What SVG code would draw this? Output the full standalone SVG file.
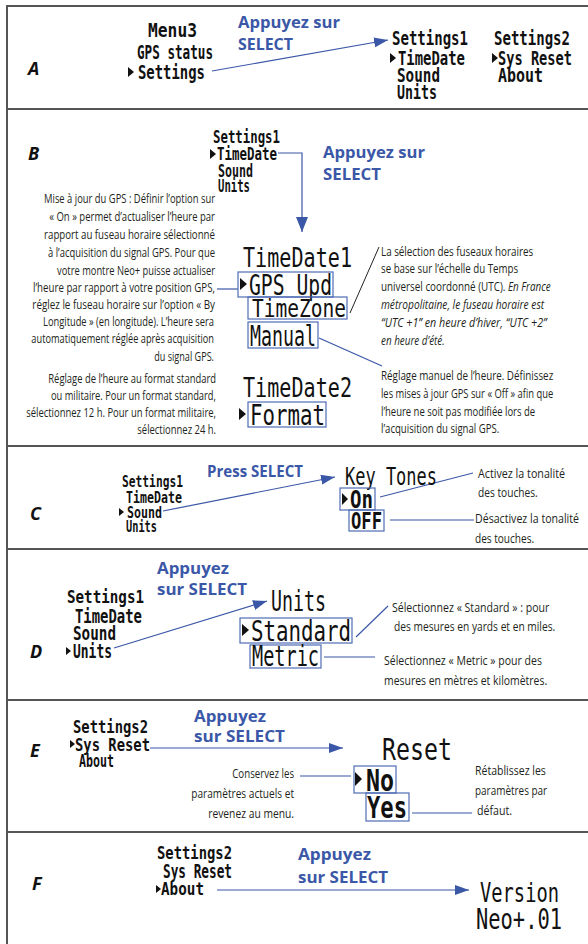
<svg xmlns="http://www.w3.org/2000/svg" width="588" height="944" viewBox="0 0 588 944">
<defs>
<marker id="ah" viewBox="0 0 14 10" refX="14" refY="5" markerWidth="14" markerHeight="10" markerUnits="userSpaceOnUse" orient="auto"><path d="M0,0 L14,5 L0,10 z" fill="#3b57a7"/></marker>
<marker id="ahb" viewBox="0 0 15 12" refX="15" refY="6" markerWidth="15" markerHeight="12" markerUnits="userSpaceOnUse" orient="auto"><path d="M0,0 L15,6 L0,12 z" fill="#3b57a7"/></marker>
</defs>
<style>
.lcd{font-family:"DejaVu Sans Mono",monospace;fill:#111}
.b{font-weight:700}
.body{font-family:"Open Sans","Liberation Sans",sans-serif;font-size:13px;fill:#231f20}
.bodyr{font-family:"Open Sans","Liberation Sans",sans-serif;font-size:13.5px;fill:#231f20}
.blue{font-family:"Open Sans","Liberation Sans",sans-serif;font-weight:700;font-size:16px;fill:#3b57a7}
.lbl{font-family:"Open Sans","Liberation Sans",sans-serif;font-weight:700;font-style:italic;font-size:18px;fill:#111}
.box{fill:none;stroke:#4f6cb5;stroke-width:1.2}
.con{stroke:#3b57a7;stroke-width:1.2;fill:none}
.dk{stroke:#222;stroke-width:1;fill:none}
.sep{stroke:#555;stroke-width:2}
.cur{fill:#111}
</style>
<rect width="588" height="944" fill="#fff"/>
<g id="frame">
<line class="sep" x1="7" y1="6" x2="588" y2="6"/>
<line class="sep" x1="7" y1="109" x2="588" y2="109"/>
<line class="sep" x1="7" y1="446" x2="588" y2="446"/>
<line class="sep" x1="7" y1="549" x2="588" y2="549"/>
<line class="sep" x1="7" y1="700" x2="588" y2="700"/>
<line class="sep" x1="7" y1="832" x2="588" y2="832"/>
<line class="sep" x1="7" y1="5" x2="7" y2="944"/>
</g>
<g id="labels">
<text class="lbl" x="28" y="75">A</text>
<text class="lbl" x="28" y="160">B</text>
<text class="lbl" x="30" y="520">C</text>
<text class="lbl" x="30" y="658">D</text>
<text class="lbl" x="30" y="757">E</text>
<text class="lbl" x="32" y="890">F</text>
</g>
<g id="connectors">
<line class="con" x1="212" y1="71" x2="388" y2="40" marker-end="url(#ah)"/>
<polyline class="con" points="278,153 302,153 302,232" marker-end="url(#ahb)"/>
<line class="con" x1="217" y1="289" x2="238" y2="289"/>
<line class="dk" x1="379" y1="247" x2="350" y2="313"/>
<line class="con" x1="319" y1="338" x2="382" y2="366"/>
<line class="con" x1="163" y1="511" x2="335" y2="477" marker-end="url(#ah)"/>
<line class="con" x1="380" y1="497" x2="473" y2="473"/>
<line class="con" x1="390" y1="520" x2="474" y2="520"/>
<line class="con" x1="114" y1="648" x2="267" y2="601" marker-end="url(#ah)"/>
<line class="con" x1="356" y1="637" x2="388" y2="606"/>
<line class="con" x1="324" y1="657" x2="375" y2="657"/>
<line class="con" x1="150" y1="748" x2="343" y2="748" marker-end="url(#ah)"/>
<line class="con" x1="300" y1="776" x2="351" y2="776"/>
<line class="con" x1="412" y1="813" x2="472" y2="813"/>
<line class="con" x1="217" y1="890" x2="469" y2="890" marker-end="url(#ah)"/>
</g>
<g id="a-menu3">
<text class="lcd b" font-size="14" textLength="49" lengthAdjust="spacingAndGlyphs" transform="translate(148,37) scale(1,1.35)">Menu3</text>
<text class="lcd b" font-size="14" textLength="76" lengthAdjust="spacingAndGlyphs" transform="translate(137,59) scale(1,1.35)">GPS status</text>
<polygon class="cur" points="128,67 134,72 128,77"/>
<text class="lcd b" font-size="14" textLength="67" lengthAdjust="spacingAndGlyphs" transform="translate(138,79) scale(1,1.35)">Settings</text>
</g>
<g id="a-select">
<text class="blue" x="238" y="28" textLength="102" lengthAdjust="spacingAndGlyphs">Appuyez sur</text>
<text class="blue" x="238" y="50" textLength="55" lengthAdjust="spacingAndGlyphs">SELECT</text>
</g>
<g id="a-settings1">
<text class="lcd b" font-size="14" textLength="76" lengthAdjust="spacingAndGlyphs" transform="translate(392,45) scale(1,1.35)">Settings1</text>
<polygon class="cur" points="390,53 396,58 390,63"/>
<text class="lcd b" font-size="14" textLength="67" lengthAdjust="spacingAndGlyphs" transform="translate(398,65) scale(1,1.35)">TimeDate</text>
<text class="lcd b" font-size="14" textLength="43" lengthAdjust="spacingAndGlyphs" transform="translate(397,82) scale(1,1.35)">Sound</text>
<text class="lcd b" font-size="14" textLength="40" lengthAdjust="spacingAndGlyphs" transform="translate(397,99) scale(1,1.35)">Units</text>
</g>
<g id="a-settings2">
<text class="lcd b" font-size="14" textLength="76" lengthAdjust="spacingAndGlyphs" transform="translate(494,45) scale(1,1.35)">Settings2</text>
<polygon class="cur" points="492,53 498,58 492,63"/>
<text class="lcd b" font-size="14" textLength="74" lengthAdjust="spacingAndGlyphs" transform="translate(498,65) scale(1,1.35)">Sys Reset</text>
<text class="lcd b" font-size="14" textLength="45" lengthAdjust="spacingAndGlyphs" transform="translate(498,82) scale(1,1.35)">About</text>
</g>
<g id="b-settings1">
<text class="lcd b" font-size="13" textLength="67" lengthAdjust="spacingAndGlyphs" transform="translate(213,143) scale(1,1.35)">Settings1</text>
<polygon class="cur" points="210,149 216,154 210,159"/>
<text class="lcd b" font-size="13" textLength="60" lengthAdjust="spacingAndGlyphs" transform="translate(217,160) scale(1,1.35)">TimeDate</text>
<text class="lcd b" font-size="13" textLength="35" lengthAdjust="spacingAndGlyphs" transform="translate(218,177) scale(1,1.35)">Sound</text>
<text class="lcd b" font-size="13" textLength="32" lengthAdjust="spacingAndGlyphs" transform="translate(218,192) scale(1,1.35)">Units</text>
</g>
<g id="b-select">
<text class="blue" x="323" y="158" textLength="102" lengthAdjust="spacingAndGlyphs">Appuyez sur</text>
<text class="blue" x="323" y="180" textLength="58" lengthAdjust="spacingAndGlyphs">SELECT</text>
</g>
<g id="b-timedate1">
<text class="lcd" font-size="19.5" textLength="109" lengthAdjust="spacingAndGlyphs" transform="translate(243,267) scale(1,1.35)">TimeDate1</text>
<rect class="box" x="238" y="272" width="95" height="25"/>
<polygon class="cur" points="240,278 247,284 240,290"/>
<text class="lcd" font-size="21" textLength="83" lengthAdjust="spacingAndGlyphs" transform="translate(249,295) scale(1,1.35)">GPS Upd</text>
<rect class="box" x="248" y="297" width="99" height="22"/>
<text class="lcd" font-size="18" textLength="94" lengthAdjust="spacingAndGlyphs" transform="translate(252,317) scale(1,1.35)">TimeZone</text>
<rect class="box" x="248" y="322" width="70" height="26"/>
<text class="lcd" font-size="21" textLength="66" lengthAdjust="spacingAndGlyphs" transform="translate(250,346) scale(1,1.35)">Manual</text>
</g>
<g id="b-timedate2">
<text class="lcd" font-size="19.5" textLength="109" lengthAdjust="spacingAndGlyphs" transform="translate(243,397) scale(1,1.35)">TimeDate2</text>
<polygon class="cur" points="239,408 246,414 239,420"/>
<rect class="box" x="248" y="402" width="78" height="25"/>
<text class="lcd" font-size="21" textLength="75" lengthAdjust="spacingAndGlyphs" transform="translate(250,425) scale(1,1.35)">Format</text>
</g>
<g id="b-note-gps" text-anchor="end">
<text class="body" textLength="263" lengthAdjust="spacingAndGlyphs" transform="translate(215,203) scale(0.65,1)">Mise à jour du GPS : Définir l’option sur</text>
<text class="body" textLength="255" lengthAdjust="spacingAndGlyphs" transform="translate(215,221) scale(0.65,1)">« On » permet d’actualiser l’heure par</text>
<text class="body" textLength="263" lengthAdjust="spacingAndGlyphs" transform="translate(215,239) scale(0.65,1)">rapport au fuseau horaire sélectionné</text>
<text class="body" textLength="257" lengthAdjust="spacingAndGlyphs" transform="translate(215,257) scale(0.65,1)">à l’acquisition du signal GPS. Pour que</text>
<text class="body" textLength="243" lengthAdjust="spacingAndGlyphs" transform="translate(215,275) scale(0.65,1)">votre montre Neo+ puisse actualiser</text>
<text class="body" textLength="280" lengthAdjust="spacingAndGlyphs" transform="translate(215,292) scale(0.65,1)">l’heure par rapport à votre position GPS,</text>
<text class="body" textLength="281" lengthAdjust="spacingAndGlyphs" transform="translate(215,309) scale(0.65,1)">réglez le fuseau horaire sur l’option « By</text>
<text class="body" textLength="263" lengthAdjust="spacingAndGlyphs" transform="translate(214,326) scale(0.65,1)">Longitude » (en longitude). L’heure sera</text>
<text class="body" textLength="281" lengthAdjust="spacingAndGlyphs" transform="translate(214,343) scale(0.65,1)">automatiquement réglée après acquisition</text>
<text class="body" textLength="92" lengthAdjust="spacingAndGlyphs" transform="translate(214,361) scale(0.65,1)">du signal GPS.</text>
</g>
<g id="b-note-format" text-anchor="end">
<text class="body" textLength="258" lengthAdjust="spacingAndGlyphs" transform="translate(216,383) scale(0.65,1)">Réglage de l’heure au format standard</text>
<text class="body" textLength="254" lengthAdjust="spacingAndGlyphs" transform="translate(216,400) scale(0.65,1)">ou militaire. Pour un format standard,</text>
<text class="body" textLength="292" lengthAdjust="spacingAndGlyphs" transform="translate(216,417) scale(0.65,1)">sélectionnez 12 h. Pour un format militaire,</text>
<text class="body" textLength="121" lengthAdjust="spacingAndGlyphs" transform="translate(216,434) scale(0.65,1)">sélectionnez 24 h.</text>
</g>
<g id="b-note-zone">
<text class="body" textLength="234" lengthAdjust="spacingAndGlyphs" transform="translate(381,256) scale(0.65,1)">La sélection des fuseaux horaires</text>
<text class="body" textLength="211" lengthAdjust="spacingAndGlyphs" transform="translate(381,273) scale(0.65,1)">se base sur l’échelle du Temps</text>
<text class="body" textLength="261" lengthAdjust="spacingAndGlyphs" transform="translate(381,291) scale(0.65,1)">universel coordonné (UTC). <tspan font-style="italic">En France</tspan></text>
<text class="body" font-style="italic" textLength="251" lengthAdjust="spacingAndGlyphs" transform="translate(381,309) scale(0.65,1)">métropolitaine, le fuseau horaire est</text>
<text class="body" font-style="italic" textLength="255" lengthAdjust="spacingAndGlyphs" transform="translate(381,327) scale(0.65,1)">“UTC +1” en heure d’hiver, “UTC +2”</text>
<text class="body" font-style="italic" textLength="98" lengthAdjust="spacingAndGlyphs" transform="translate(381,345) scale(0.65,1)">en heure d’été.</text>
</g>
<g id="b-note-manual">
<text class="body" textLength="265" lengthAdjust="spacingAndGlyphs" transform="translate(381,380) scale(0.65,1)">Réglage manuel de l’heure. Définissez</text>
<text class="body" textLength="265" lengthAdjust="spacingAndGlyphs" transform="translate(381,398) scale(0.65,1)">les mises à jour GPS sur « Off » afin que</text>
<text class="body" textLength="237" lengthAdjust="spacingAndGlyphs" transform="translate(381,416) scale(0.65,1)">l’heure ne soit pas modifiée lors de</text>
<text class="body" textLength="182" lengthAdjust="spacingAndGlyphs" transform="translate(381,433) scale(0.65,1)">l’acquisition du signal GPS.</text>
</g>
<g id="c-settings1">
<text class="lcd b" font-size="12" textLength="61" lengthAdjust="spacingAndGlyphs" transform="translate(122,487) scale(1,1.35)">Settings1</text>
<text class="lcd b" font-size="12" textLength="56" lengthAdjust="spacingAndGlyphs" transform="translate(126,503) scale(1,1.35)">TimeDate</text>
<polygon class="cur" points="119,508 124,512 119,516"/>
<text class="lcd b" font-size="12" textLength="35" lengthAdjust="spacingAndGlyphs" transform="translate(127,518) scale(1,1.35)">Sound</text>
<text class="lcd b" font-size="12" textLength="31" lengthAdjust="spacingAndGlyphs" transform="translate(126,532) scale(1,1.35)">Units</text>
</g>
<g id="c-select">
<text class="blue" font-weight="400" x="207" y="477" textLength="96" lengthAdjust="spacingAndGlyphs">Press <tspan font-weight="700">SELECT</tspan></text>
</g>
<g id="c-keytones">
<text class="lcd" font-size="18" textLength="92" lengthAdjust="spacingAndGlyphs" transform="translate(345,485) scale(1,1.35)">Key Tones</text>
<rect class="box" x="340" y="488" width="35" height="22"/>
<polygon class="cur" points="342,493 348,499 342,505"/>
<text class="lcd b" font-size="18" textLength="23" lengthAdjust="spacingAndGlyphs" transform="translate(350,508) scale(1,1.35)">On</text>
<rect class="box" x="349" y="510" width="35" height="21"/>
<text class="lcd b" font-size="17" textLength="31" lengthAdjust="spacingAndGlyphs" transform="translate(351,529) scale(1,1.35)">OFF</text>
</g>
<g id="c-notes">
<text class="bodyr" textLength="134" lengthAdjust="spacingAndGlyphs" transform="translate(478,478) scale(0.65,1)">Activez la tonalité</text>
<text class="bodyr" textLength="92" lengthAdjust="spacingAndGlyphs" transform="translate(478,497) scale(0.65,1)">des touches.</text>
<text class="bodyr" textLength="160" lengthAdjust="spacingAndGlyphs" transform="translate(475,523) scale(0.65,1)">Désactivez la tonalité</text>
<text class="bodyr" textLength="91" lengthAdjust="spacingAndGlyphs" transform="translate(475,543) scale(0.65,1)">des touches.</text>
</g>
<g id="d-settings1">
<text class="lcd b" font-size="13" textLength="77" lengthAdjust="spacingAndGlyphs" transform="translate(67,603) scale(1,1.35)">Settings1</text>
<text class="lcd b" font-size="14" textLength="67" lengthAdjust="spacingAndGlyphs" transform="translate(75,623) scale(1,1.35)">TimeDate</text>
<text class="lcd b" font-size="14" textLength="43" lengthAdjust="spacingAndGlyphs" transform="translate(73,640) scale(1,1.35)">Sound</text>
<polygon class="cur" points="66,647 71,651 66,655"/>
<text class="lcd b" font-size="14" textLength="39" lengthAdjust="spacingAndGlyphs" transform="translate(73,658) scale(1,1.35)">Units</text>
</g>
<g id="d-select">
<text class="blue" x="157" y="574" textLength="72" lengthAdjust="spacingAndGlyphs">Appuyez</text>
<text class="blue" x="157" y="595" textLength="90" lengthAdjust="spacingAndGlyphs">sur SELECT</text>
</g>
<g id="d-units">
<text class="lcd" font-size="21" textLength="55" lengthAdjust="spacingAndGlyphs" transform="translate(271,611) scale(1,1.35)">Units</text>
<rect class="box" x="240" y="618" width="112" height="25"/>
<polygon class="cur" points="242,624 249,630 242,636"/>
<text class="lcd" font-size="21" textLength="100" lengthAdjust="spacingAndGlyphs" transform="translate(251,641) scale(1,1.35)">Standard</text>
<rect class="box" x="250" y="645" width="71" height="23"/>
<text class="lcd" font-size="21" textLength="67" lengthAdjust="spacingAndGlyphs" transform="translate(252,666) scale(1,1.35)">Metric</text>
</g>
<g id="d-notes">
<text class="bodyr" textLength="242" lengthAdjust="spacingAndGlyphs" transform="translate(392,612) scale(0.65,1)">Sélectionnez « Standard » : pour</text>
<text class="bodyr" textLength="248" lengthAdjust="spacingAndGlyphs" transform="translate(394,631) scale(0.65,1)">des mesures en yards et en miles.</text>
<text class="bodyr" textLength="243" lengthAdjust="spacingAndGlyphs" transform="translate(384,665) scale(0.65,1)">Sélectionnez « Metric » pour des</text>
<text class="bodyr" textLength="251" lengthAdjust="spacingAndGlyphs" transform="translate(384,685) scale(0.65,1)">mesures en mètres et kilomètres.</text>
</g>
<g id="e-settings2">
<text class="lcd b" font-size="13" textLength="75" lengthAdjust="spacingAndGlyphs" transform="translate(73,733) scale(1,1.35)">Settings2</text>
<polygon class="cur" points="70,740 75,744 70,748"/>
<text class="lcd b" font-size="13" textLength="75" lengthAdjust="spacingAndGlyphs" transform="translate(75,751) scale(1,1.35)">Sys Reset</text>
<text class="lcd b" font-size="13" textLength="35" lengthAdjust="spacingAndGlyphs" transform="translate(79,767) scale(1,1.35)">About</text>
</g>
<g id="e-select">
<text class="blue" x="194" y="722" textLength="72" lengthAdjust="spacingAndGlyphs">Appuyez</text>
<text class="blue" x="194" y="742" textLength="91" lengthAdjust="spacingAndGlyphs">sur SELECT</text>
</g>
<g id="e-reset">
<text class="lcd" font-size="22" textLength="70" lengthAdjust="spacingAndGlyphs" transform="translate(382,760) scale(1,1.35)">Reset</text>
<rect class="box" x="354" y="766" width="42" height="27"/>
<polygon class="cur" points="355,772 362,779 355,786"/>
<text class="lcd b" font-size="22" textLength="28" lengthAdjust="spacingAndGlyphs" transform="translate(366,791) scale(1,1.35)">No</text>
<rect class="box" x="366" y="793" width="43" height="28"/>
<text class="lcd b" font-size="22" textLength="40" lengthAdjust="spacingAndGlyphs" transform="translate(367,818) scale(1,1.35)">Yes</text>
</g>
<g id="e-notes">
<text class="bodyr" text-anchor="end" textLength="95" lengthAdjust="spacingAndGlyphs" transform="translate(294,778) scale(0.65,1)">Conservez les</text>
<text class="bodyr" text-anchor="end" textLength="158" lengthAdjust="spacingAndGlyphs" transform="translate(294,798) scale(0.65,1)">paramètres actuels et</text>
<text class="bodyr" text-anchor="end" textLength="132" lengthAdjust="spacingAndGlyphs" transform="translate(294,818) scale(0.65,1)">revenez au menu.</text>
<text class="bodyr" textLength="109" lengthAdjust="spacingAndGlyphs" transform="translate(475,775) scale(0.65,1)">Rétablissez les</text>
<text class="bodyr" textLength="111" lengthAdjust="spacingAndGlyphs" transform="translate(475,795) scale(0.65,1)">paramètres par</text>
<text class="bodyr" textLength="54" lengthAdjust="spacingAndGlyphs" transform="translate(477,815) scale(0.65,1)">défaut.</text>
</g>
<g id="f-settings2">
<text class="lcd b" font-size="13" textLength="75" lengthAdjust="spacingAndGlyphs" transform="translate(157,859) scale(1,1.35)">Settings2</text>
<text class="lcd b" font-size="14" textLength="69" lengthAdjust="spacingAndGlyphs" transform="translate(163,878) scale(1,1.35)">Sys Reset</text>
<polygon class="cur" points="156,885 161,889 156,893"/>
<text class="lcd b" font-size="13" textLength="43" lengthAdjust="spacingAndGlyphs" transform="translate(161,895) scale(1,1.35)">About</text>
</g>
<g id="f-select">
<text class="blue" x="298" y="860" textLength="73" lengthAdjust="spacingAndGlyphs">Appuyez</text>
<text class="blue" x="298" y="883" textLength="90" lengthAdjust="spacingAndGlyphs">sur SELECT</text>
</g>
<g id="f-version">
<text class="lcd" font-size="19.5" textLength="79" lengthAdjust="spacingAndGlyphs" transform="translate(480,902) scale(1,1.35)">Version</text>
<text class="lcd" font-size="21" textLength="86" lengthAdjust="spacingAndGlyphs" transform="translate(476,929) scale(1,1.35)">Neo+.01</text>
</g>
</svg>
